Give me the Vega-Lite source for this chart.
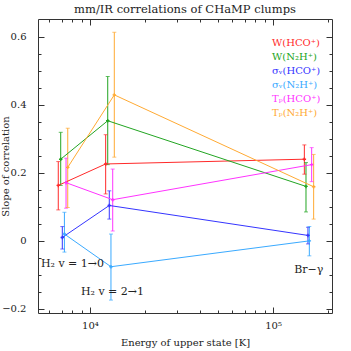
{
  "$schema": "https://vega.github.io/schema/vega-lite/v6.json",
  "width": 294,
  "height": 294,
  "autosize": "none",
  "padding": {"left": 38, "top": 19, "right": 19, "bottom": 38},
  "background": "white",
  "config": {
    "view": {"stroke": "#333", "strokeWidth": 1},
    "font": "DejaVu Serif",
    "axis": {"labelFont": "DejaVu Serif", "titleFont": "DejaVu Serif", "labelFontSize": 10, "titleFontSize": 10, "titleFontWeight": "normal", "labelColor": "#222", "titleColor": "#222", "tickColor": "#333", "grid": false, "domain": false, "labelOverlap": false, "labelBound": false, "labelFlush": false}
  },
  "title": {"text": "mm/IR correlations of CHaMP clumps", "font": "DejaVu Serif", "fontSize": 11.5, "fontWeight": "normal", "color": "#222", "offset": 3},
  "data": {
    "values": [
      {"s": "W(HCO⁺)", "x": 6710, "y": 0.163, "lo": 0.091, "hi": 0.233},
      {"s": "W(HCO⁺)", "x": 12180, "y": 0.226, "lo": 0.138, "hi": 0.312},
      {"s": "W(HCO⁺)", "x": 148300, "y": 0.240, "lo": 0.196, "hi": 0.282},
      {"s": "W(N₂H⁺)", "x": 6920, "y": 0.240, "lo": 0.163, "hi": 0.319},
      {"s": "W(N₂H⁺)", "x": 12500, "y": 0.353, "lo": 0.224, "hi": 0.483},
      {"s": "W(N₂H⁺)", "x": 151400, "y": 0.160, "lo": 0.085, "hi": 0.230},
      {"s": "σᵥ(HCO⁺)", "x": 7060, "y": 0.010, "lo": -0.024, "hi": 0.042},
      {"s": "σᵥ(HCO⁺)", "x": 12750, "y": 0.104, "lo": 0.064, "hi": 0.147},
      {"s": "σᵥ(HCO⁺)", "x": 155200, "y": 0.016, "lo": -0.009, "hi": 0.040},
      {"s": "σᵥ(N₂H⁺)", "x": 7250, "y": 0.020, "lo": -0.033, "hi": 0.084},
      {"s": "σᵥ(N₂H⁺)", "x": 13020, "y": -0.076, "lo": -0.174, "hi": 0.020},
      {"s": "σᵥ(N₂H⁺)", "x": 157900, "y": 0.000, "lo": -0.044, "hi": 0.042},
      {"s": "Tₚ(HCO⁺)", "x": 7400, "y": 0.171, "lo": 0.096, "hi": 0.243},
      {"s": "Tₚ(HCO⁺)", "x": 13310, "y": 0.121, "lo": 0.029, "hi": 0.211},
      {"s": "Tₚ(HCO⁺)", "x": 162600, "y": 0.224, "lo": 0.174, "hi": 0.274},
      {"s": "Tₚ(N₂H⁺)", "x": 7560, "y": 0.216, "lo": 0.098, "hi": 0.331},
      {"s": "Tₚ(N₂H⁺)", "x": 13580, "y": 0.429, "lo": 0.246, "hi": 0.613},
      {"s": "Tₚ(N₂H⁺)", "x": 166700, "y": 0.159, "lo": 0.064, "hi": 0.254}
    ]
  },
  "resolve": {"axis": {"x": "independent", "y": "independent"}},
  "layer": [
    {
      "mark": {"type": "rule", "strokeWidth": 1},
      "encoding": {
        "x": {"field": "x", "type": "quantitative", "scale": {"type": "log", "domain": [5200, 210000], "nice": false},
          "axis": {"orient": "bottom", "values": [6000, 7000, 8000, 9000, 10000, 20000, 30000, 40000, 50000, 60000, 70000, 80000, 90000, 100000, 200000],
            "labelExpr": "datum.value == 10000 ? '10⁴' : datum.value == 100000 ? '10⁵' : ''",
            "tickSize": {"condition": {"test": "datum.value == 10000 || datum.value == 100000", "value": -6}, "value": -3},
            "labelPadding": 13, "title": "Energy of upper state [K]", "titlePadding": 4}},
        "y": {"field": "lo", "type": "quantitative", "scale": {"domain": [-0.212, 0.652], "nice": false, "zero": false},
          "axis": {"orient": "left", "values": [-0.2, -0.15, -0.1, -0.05, 0, 0.05, 0.1, 0.15, 0.2, 0.25, 0.3, 0.35, 0.4, 0.45, 0.5, 0.55, 0.6],
            "labelExpr": "datum.value == 0.6 ? '0.6' : datum.value == 0.4 ? '0.4' : datum.value == 0.2 ? '0.2' : datum.value == 0 ? '0' : datum.value == -0.2 ? '−0.2' : ''",
            "tickSize": {"condition": {"test": "datum.value == 0.6 || datum.value == 0.4 || datum.value == 0.2 || datum.value == 0 || datum.value == -0.2", "value": -6}, "value": -3},
            "labelPadding": 18, "title": "Slope of correlation", "titlePadding": -9}},
        "y2": {"field": "hi"},
        "color": {"field": "s", "type": "nominal",
          "scale": {"domain": ["W(HCO⁺)", "W(N₂H⁺)", "σᵥ(HCO⁺)", "σᵥ(N₂H⁺)", "Tₚ(HCO⁺)", "Tₚ(N₂H⁺)"], "range": ["#ff2a2a", "#22a522", "#3535ff", "#3aaaff", "#ff33ff", "#ffaa33"]},
          "legend": {"orient": "none", "legendX": 224, "legendY": 19, "title": null, "symbolSize": 0, "symbolOpacity": 0, "symbolStrokeWidth": 0, "labelOffset": 0, "labelFont": "DejaVu Serif", "labelFontSize": 10, "rowPadding": 4,
            "labelColor": {"expr": "scale('color', datum.value)"}}}
      }
    },
    {
      "mark": {"type": "line", "strokeWidth": 1},
      "encoding": {
        "x": {"field": "x", "type": "quantitative",
          "axis": {"orient": "top", "values": [6000, 7000, 8000, 9000, 10000, 20000, 30000, 40000, 50000, 60000, 70000, 80000, 90000, 100000, 200000],
            "labels": false, "title": null,
            "tickSize": {"condition": {"test": "datum.value == 10000 || datum.value == 100000", "value": -6}, "value": -3}}},
        "y": {"field": "y", "type": "quantitative",
          "axis": {"orient": "right", "values": [-0.2, -0.15, -0.1, -0.05, 0, 0.05, 0.1, 0.15, 0.2, 0.25, 0.3, 0.35, 0.4, 0.45, 0.5, 0.55, 0.6],
            "labels": false, "title": null,
            "tickSize": {"condition": {"test": "datum.value == 0.6 || datum.value == 0.4 || datum.value == 0.2 || datum.value == 0 || datum.value == -0.2", "value": -6}, "value": -3}}},
        "color": {"field": "s", "type": "nominal"},
        "order": {"field": "x", "type": "quantitative"}
      }
    },
    {
      "mark": {"type": "tick", "orient": "horizontal", "size": 4, "thickness": 1},
      "encoding": {
        "x": {"field": "x", "type": "quantitative", "axis": null},
        "y": {"field": "hi", "type": "quantitative", "axis": null},
        "color": {"field": "s", "type": "nominal"}
      }
    },
    {
      "mark": {"type": "tick", "orient": "horizontal", "size": 4, "thickness": 1},
      "encoding": {
        "x": {"field": "x", "type": "quantitative", "axis": null},
        "y": {"field": "lo", "type": "quantitative", "axis": null},
        "color": {"field": "s", "type": "nominal"}
      }
    },
    {
      "mark": {"type": "point", "shape": "cross", "filled": true, "size": 12, "opacity": 1},
      "encoding": {
        "x": {"field": "x", "type": "quantitative", "axis": null},
        "y": {"field": "y", "type": "quantitative", "axis": null},
        "color": {"field": "s", "type": "nominal"}
      }
    },
    {
      "data": {"values": [
        {"x": 8020, "y": -0.068, "t": "H₂ v = 1→0"},
        {"x": 13270, "y": -0.149, "t": "H₂ v = 2→1"},
        {"x": 156700, "y": -0.087, "t": "Br−γ"}
      ]},
      "mark": {"type": "text", "font": "DejaVu Serif", "fontSize": 11, "color": "#222", "align": "center", "baseline": "middle"},
      "encoding": {
        "x": {"field": "x", "type": "quantitative", "axis": null},
        "y": {"field": "y", "type": "quantitative", "axis": null},
        "text": {"field": "t"}
      }
    }
  ]
}
